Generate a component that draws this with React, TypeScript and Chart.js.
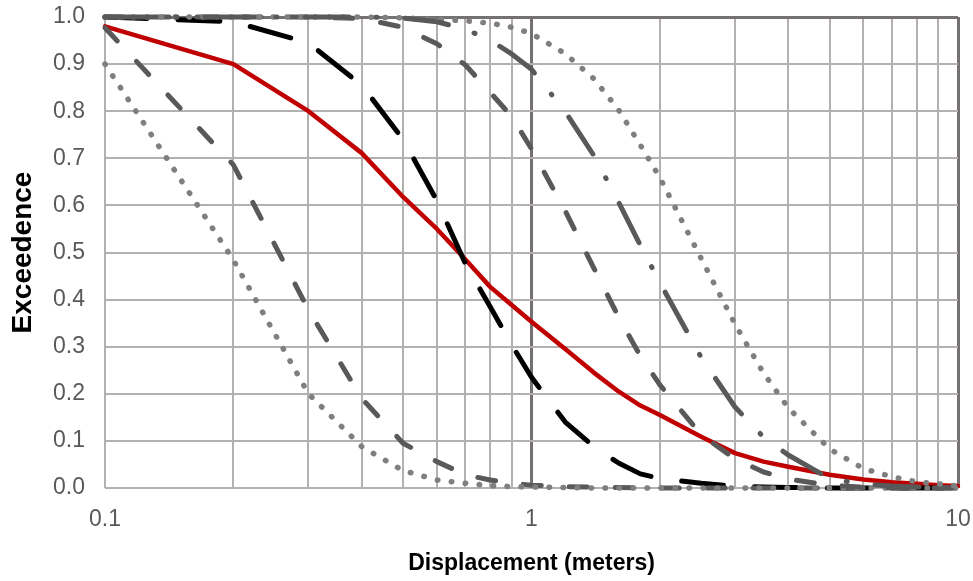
import React, { useEffect, useRef } from 'react';
import { Chart, registerables } from 'chart.js';
Chart.register(...registerables);

// Displacement (meters) sample positions
const X = [0.1, 0.2, 0.3, 0.4, 0.5, 0.6, 0.7, 0.8, 0.9, 1, 1.2, 1.4, 1.6, 1.8, 2, 2.5, 3, 3.5, 4, 5, 6, 7, 8, 9, 10];

// Exceedence series
const RED_SOLID = [0.98, 0.9, 0.8, 0.711, 0.618, 0.55, 0.485, 0.427, 0.388, 0.353, 0.295, 0.245, 0.205, 0.175, 0.155, 0.109, 0.074, 0.056, 0.045, 0.028, 0.018, 0.012, 0.009, 0.006, 0.004];
const BLACK_DASH = [1.0, 0.99, 0.945, 0.855, 0.74, 0.61, 0.476, 0.385, 0.303, 0.235, 0.14, 0.088, 0.053, 0.03, 0.02, 0.01, 0.004, 0.002, 0.001, 0, 0, 0, 0, 0, 0];
const LEFT_DASH = [0.977, 0.686, 0.378, 0.19, 0.095, 0.056, 0.028, 0.017, 0.01, 0.006, 0.003, 0.002, 0.001, 0, 0, 0, 0, 0, 0, 0, 0, 0, 0, 0, 0];
const LEFT_DOT = [0.9, 0.484, 0.2, 0.088, 0.037, 0.017, 0.01, 0.005, 0.003, 0.002, 0.001, 0, 0, 0, 0, 0, 0, 0, 0, 0, 0, 0, 0, 0, 0];
const RIGHT_DASH = [1, 1, 1, 0.997, 0.978, 0.943, 0.898, 0.84, 0.788, 0.72, 0.588, 0.467, 0.363, 0.28, 0.219, 0.113, 0.062, 0.034, 0.019, 0.006, 0.002, 0, 0, 0, 0];
const RIGHT_DASHDOT = [1, 1, 1, 1, 0.998, 0.99, 0.974, 0.951, 0.921, 0.889, 0.799, 0.706, 0.607, 0.515, 0.436, 0.277, 0.172, 0.108, 0.07, 0.02, 0.008, 0.004, 0.002, 0.001, 0];
const RIGHT_DOT = [1, 1, 1, 1, 0.998, 0.995, 0.992, 0.987, 0.978, 0.965, 0.922, 0.869, 0.803, 0.728, 0.659, 0.487, 0.348, 0.244, 0.17, 0.083, 0.041, 0.024, 0.013, 0.009, 0.004];

// Axis ticks
const X_GRID = [0.1, 0.2, 0.3, 0.4, 0.5, 0.6, 0.7, 0.8, 0.9, 1, 2, 3, 4, 5, 6, 7, 8, 9, 10];
const X_LABELS = ['0.1', '1', '10'];
const X_LABEL_VALUES = [0.1, 1, 10];
const X_DARK = [1, 10];

const LIGHT = '#b3b0b0';
const DARK = '#767171';
const FONT = '"Liberation Sans", Arial, sans-serif';

const pts = (ys: number[]) => X.map((x, i) => ({ x, y: ys[i] }));
const near = (a: number, b: number) => Math.abs(a - b) < 1e-6;

export default function App() {
  const ref = useRef<HTMLCanvasElement>(null);
  useEffect(() => {
    document.body.style.margin = '0';
    const base = { pointRadius: 0, tension: 0, fill: false, clip: false as any, borderCapStyle: 'round' as const, borderJoinStyle: 'round' as const };
    const chart = new Chart(ref.current!, {
      type: 'line',
      data: {
        datasets: [
          { ...base, label: 'dashdot', data: pts(RIGHT_DASHDOT), borderColor: '#595959', borderWidth: 5, borderDash: [44, 27, 1, 28] },
          { ...base, label: 'rdot', data: pts(RIGHT_DOT), borderColor: '#7f7f7f', borderWidth: 5.5, borderDash: [0.5, 13.5] },
          { ...base, label: 'rdash', data: pts(RIGHT_DASH), borderColor: '#595959', borderWidth: 5, borderDash: [18, 28] },
          { ...base, label: 'ldot', data: pts(LEFT_DOT), borderColor: '#7f7f7f', borderWidth: 5.5, borderDash: [0.5, 13.5] },
          { ...base, label: 'ldash', data: pts(LEFT_DASH), borderColor: '#595959', borderWidth: 5, borderDash: [18, 28] },
          { ...base, label: 'black', data: pts(BLACK_DASH), borderColor: '#000000', borderWidth: 5, borderDash: [42, 31] },
          { ...base, label: 'red', data: pts(RED_SOLID), borderColor: '#c00000', borderWidth: 4.5 },
        ],
      },
      options: {
        animation: false,
        responsive: false,
        devicePixelRatio: 1,
        layout: { padding: { left: 0, top: 17, right: 15, bottom: 0 } },
        plugins: { legend: { display: false }, tooltip: { enabled: false } },
        scales: {
          x: {
            type: 'logarithmic',
            min: 0.1,
            max: 10,
            afterBuildTicks: (scale: any) => {
              scale.ticks = X_GRID.map((v) => ({ value: v }));
            },
            afterFit: (scale: any) => {
              scale.height = 93;
              scale.paddingLeft = 0;
              scale.paddingRight = 0;
            },
            border: { display: false },
            grid: {
              drawTicks: false,
              color: (ctx: any) => (X_DARK.some((d) => near(ctx.tick?.value, d)) ? DARK : LIGHT),
              lineWidth: (ctx: any) => (X_DARK.some((d) => near(ctx.tick?.value, d)) ? 3 : 2),
            },
            ticks: {
              autoSkip: false,
              maxRotation: 0,
              padding: 18,
              color: '#595959',
              font: { family: FONT, size: 23 },
              callback: (v: any) => {
                const i = X_LABEL_VALUES.findIndex((d) => near(Number(v), d));
                return i >= 0 ? X_LABELS[i] : '';
              },
            },
            title: {
              display: true,
              text: 'Displacement (meters)',
              color: '#000',
              font: { family: FONT, size: 23, weight: 'bold' },
              padding: { top: 0, bottom: 4 },
            },
          },
          y: {
            type: 'linear',
            min: 0,
            max: 1,
            afterFit: (scale: any) => {
              scale.width = 105;
              scale.paddingTop = 0;
              scale.paddingBottom = 0;
            },
            border: { display: false },
            grid: {
              drawTicks: false,
              color: (ctx: any) => (near(ctx.tick?.value, 1) ? DARK : LIGHT),
              lineWidth: (ctx: any) => (near(ctx.tick?.value, 1) ? 3 : 2),
            },
            ticks: {
              stepSize: 0.1,
              padding: 20,
              color: '#595959',
              font: { family: FONT, size: 23 },
              callback: (v: any) => Number(v).toFixed(1),
            },
            title: {
              display: true,
              text: 'Exceedence',
              color: '#000',
              font: { family: FONT, size: 28, weight: 'bold' },
              padding: { top: 6, bottom: 0 },
            },
          },
        },
      },
    });
    return () => chart.destroy();
  }, []);
  return (
    <div style={{ position: 'absolute', left: 0, top: 0, width: 973, height: 581, background: '#fff' }}>
      <canvas ref={ref} width={973} height={581} style={{ display: 'block' }} />
    </div>
  );
}
